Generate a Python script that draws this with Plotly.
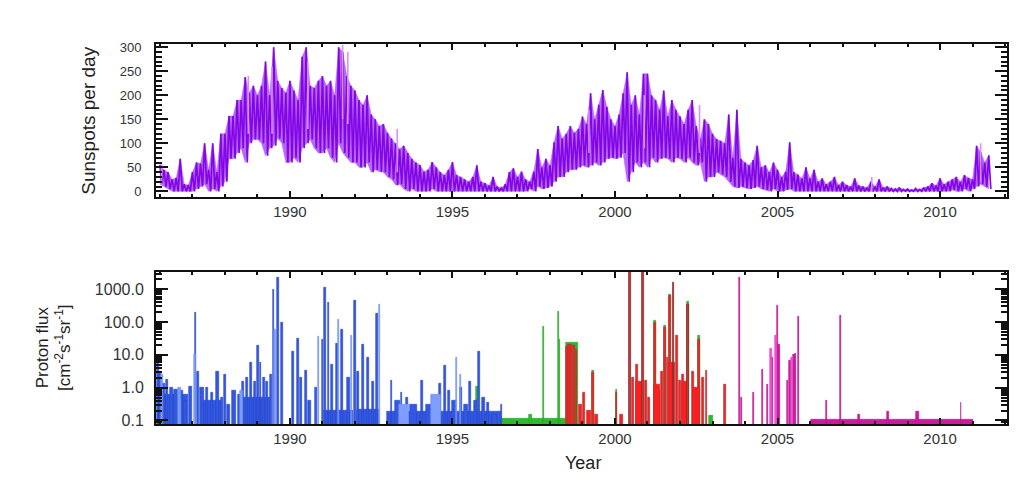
import numpy as np
import plotly.graph_objects as go

# ---------------- Sunspots (top panel) ----------------
ss_start = 1986.0
ss_step = 0.125
ss_hi = [
    55, 45, 40, 25, 28, 68, 15, 13,
    40, 60, 58, 100, 45, 100, 40, 120,
    120, 157, 157, 190, 190, 238, 205, 220,
    200, 220, 270, 200, 300, 230, 215, 205,
    230, 210, 190, 280, 300, 220, 215, 230,
    240, 220, 230, 200, 300, 290, 240, 220,
    210, 190, 180, 200, 160, 150, 136, 140,
    122, 110, 100, 88, 95, 80, 68, 60,
    55, 41, 45, 61, 50, 40, 34, 45,
    61, 34, 30, 25, 20, 30, 54, 20,
    17, 12, 30, 10, 7, 15, 40, 48,
    30, 41, 25, 20, 41, 88, 50, 68,
    54, 102, 136, 110, 120, 136, 122, 130,
    156, 140, 204, 150, 180, 211, 176, 150,
    136, 160, 204, 248, 180, 200, 160, 245,
    245, 200, 190, 170, 210, 156, 190, 170,
    156, 140, 170, 190, 136, 110, 150, 140,
    120, 109, 105, 100, 160, 70, 170, 68,
    60, 54, 65, 95, 50, 54, 40, 60,
    45, 30, 41, 102, 40, 35, 27, 50,
    27, 45, 20, 27, 15, 20, 30, 13,
    20, 13, 10, 27, 12, 10, 8, 20,
    10, 25, 8, 10, 6, 5, 8, 4,
    5, 3, 6, 4, 8, 10, 17, 12,
    27, 15, 20, 25, 30, 20, 34, 28,
    25, 95, 82, 60, 75,
]
ss_lo = [
    15, 10, 5, 0, 0, 0, 0, 0,
    0, 5, 10, 15, 0, 5, 0, 10,
    20, 68, 68, 80, 90, 60, 100, 108,
    108, 100, 74, 90, 95, 110, 100, 60,
    60, 70, 60, 90, 100, 108, 90, 80,
    80, 90, 70, 60, 100, 80, 70, 60,
    60, 50, 50, 60, 40, 45, 41, 40,
    30, 25, 13, 15, 5, 0, 5, 0,
    0, 0, 0, 5, 0, 0, 0, 0,
    0, 0, 0, 0, 0, 0, 0, 0,
    0, 0, 0, 0, 0, 0, 0, 0,
    0, 0, 0, 5, 0, 10, 5, 7,
    10, 20, 30, 30, 40, 45, 45, 50,
    54, 50, 54, 60, 54, 60, 68, 70,
    68, 70, 80, 20, 40, 60, 50, 60,
    50, 70, 60, 68, 70, 68, 60, 70,
    68, 60, 70, 60, 54, 60, 20, 30,
    30, 40, 35, 30, 20, 10, 7, 10,
    7, 5, 7, 10, 5, 3, 0, 5,
    0, 0, 3, 5, 0, 0, 0, 0,
    0, 0, 0, 0, 0, 0, 0, 0,
    0, 0, 0, 0, 0, 0, 0, 0,
    0, 0, 0, 0, 0, 0, 0, 0,
    0, 0, 0, 0, 0, 0, 0, 0,
    0, 0, 0, 3, 0, 0, 5, 0,
    5, 10, 15, 10, 5,
]
# lighter (second source) spikes
ss_light_years = [1986.05, 1988.72, 1989.45, 1990.55, 1991.62, 1991.78, 1993.3, 1999.2, 2000.9, 2002.6, 2007.9, 2011.25]
ss_light_vals = [60, 240, 260, 270, 305, 290, 130, 170, 200, 180, 30, 100]
ss_light_lo = [10, 120, 120, 130, 150, 140, 40, 80, 90, 80, 0, 20]

# ---------------- Proton flux (bottom panel) ----------------
# each event: centre year, peak flux, duration (years)
blue_t = [1986.4, 1987.6, 1988.95, 1991.5, 1992.4, 1994.75,
          1985.93, 1986.0, 1986.1, 1986.22, 1986.35, 1986.5, 1986.65, 1986.78, 1986.95,
          1987.1, 1987.16, 1987.3, 1987.45, 1987.6, 1987.78, 1987.9, 1988.0, 1988.1,
          1988.28, 1988.45, 1988.55, 1988.68, 1988.8, 1988.92, 1989.02, 1989.1, 1989.2,
          1989.3, 1989.42, 1989.5, 1989.62, 1989.75, 1990.1, 1990.25, 1990.35, 1990.5,
          1990.6, 1990.8, 1991.0, 1991.08, 1991.18, 1991.3, 1991.45, 1991.6, 1991.8,
          1992.0, 1992.1, 1992.25, 1992.4, 1992.55, 1992.68, 1993.13, 1993.3, 1993.44,
          1993.6, 1993.8, 1994.05, 1994.3, 1994.45, 1994.62, 1994.77, 1994.9, 1995.05,
          1995.25, 1995.42, 1995.54, 1995.7, 1995.82, 1995.95, 1996.1, 1996.3, 1996.51]
blue_v = [0.6, 0.4, 0.5, 0.2, 0.22, 0.19,
          8, 3, 1.3, 1.8, 1.0, 0.9, 0.8, 0.4, 1.1,
          200, 3.0, 1.0, 1.0, 0.7, 3.0, 0.5, 2.5, 0.3,
          0.8, 0.6, 1.5, 2.0, 6, 1.5, 19, 6, 2,
          1.5, 2.5, 1000, 2300, 100, 13, 32, 2.0, 3.4,
          0.4, 1.0, 30, 1100, 400, 5, 22, 60, 2,
          450, 3, 20, 8, 1.5, 180, 1.7, 0.4, 0.7,
          0.5, 0.3, 1.7, 0.3, 0.5, 1.3, 4.6, 0.8, 0.4,
          1.0, 0.3, 1.5, 0.4, 13, 0.5, 0.35, 0.15, 0.3]
blue_w = [0.9, 0.6, 0.9, 0.9, 0.7, 3.5,
          0.06, 0.08, 0.1, 0.08, 0.1, 0.12, 0.1, 0.08, 0.1,
          0.04, 0.06, 0.12, 0.08, 0.08, 0.08, 0.06, 0.06, 0.1,
          0.1, 0.1, 0.06, 0.06, 0.06, 0.06, 0.06, 0.05, 0.06,
          0.08, 0.05, 0.05, 0.06, 0.05, 0.05, 0.06, 0.05, 0.05,
          0.1, 0.08, 0.05, 0.04, 0.04, 0.06, 0.04, 0.04, 0.08,
          0.04, 0.06, 0.05, 0.05, 0.08, 0.04, 0.05, 0.15, 0.04,
          0.05, 0.2, 0.06, 0.2, 0.06, 0.06, 0.04, 0.06, 0.1,
          0.06, 0.1, 0.06, 0.1, 0.04, 0.08, 0.06, 0.15, 0.04]
lblue_t = [1986.05, 1986.6, 1987.08, 1988.5, 1989.55, 1990.87, 1991.5, 1991.9, 1992.75, 1993.5, 1994.5, 1995.13, 1995.25]
lblue_v = [2.5, 1.0, 10, 0.8, 60, 35, 120, 40, 350, 0.3, 0.6, 8, 2.5]
lblue_w = [0.06, 0.1, 0.04, 0.1, 0.05, 0.04, 0.04, 0.04, 0.04, 0.3, 0.3, 0.04, 0.04]

green_t = [1996.8, 1995.75, 1997.4, 1997.8, 1998.26, 1998.3, 1998.68, 1999.33, 2000.05, 2001.23,
           2001.54, 2001.69, 2002.26, 2002.58, 2002.95]
green_v = [0.112, 1.1, 0.15, 73, 210, 30, 23, 3.3, 0.9, 115, 80, 700, 420, 40, 0.14]
green_w = [3.4, 0.05, 0.1, 0.03, 0.03, 0.03, 0.36, 0.05, 0.05, 0.05, 0.05, 0.05, 0.06, 0.06, 0.1]

red_t = [1998.52, 1998.58, 1998.66, 1998.74, 1998.82, 1998.95, 1999.05, 1999.2, 1999.33, 1999.42,
         2000.05, 2000.2, 2000.55, 2000.67, 2000.95, 2001.05, 2001.23, 2001.35,
         2001.45, 2001.54, 2001.62, 2001.69, 2001.9, 2002.0, 2002.1, 2002.4,
         2002.58, 2002.7, 2002.82, 2003.38, 2000.75, 2001.3, 2001.75, 2002.15, 2002.5]
red_v = [18, 20, 20, 19, 15, 0.3, 0.7, 0.2, 2.9, 0.15,
         0.7, 0.15, 2, 5, 1.7, 0.5, 100, 0.8,
         3, 70, 8, 630, 40, 1.7, 2.5, 3,
         30, 2, 3.4, 1.2, 1.5, 1.2, 6, 1.5, 1.0]
red_w = [0.05, 0.06, 0.06, 0.06, 0.05, 0.1, 0.05, 0.1, 0.05, 0.1,
         0.05, 0.08, 0.06, 0.07, 0.05, 0.07, 0.05, 0.06,
         0.06, 0.05, 0.05, 0.05, 0.06, 0.07, 0.07, 0.06,
         0.05, 0.06, 0.05, 0.05, 0.2, 0.2, 0.2, 0.2, 0.2]
# the biggest events, drawn darker red
dred_t = [2000.46, 2000.87, 2001.8, 2002.26]
dred_v = [4000, 4000, 1600, 350]
dred_w = [0.06, 0.05, 0.05, 0.06]

mag_t = [2008.52, 2003.83, 2003.9, 2004.26, 2004.54, 2004.7, 2004.85, 2005.0, 2005.05, 2005.3,
         2005.38, 2005.5, 2005.56, 2005.64, 2006.51, 2006.95, 2007.5, 2008.4, 2009.3, 2010.64]
mag_v = [0.108, 2300, 0.5, 0.7, 3.6, 1.2, 8, 320, 20, 1.7,
         6.5, 10, 11, 146, 0.4, 160, 0.15, 0.18, 0.18, 0.35]
mag_w = [5.0, 0.03, 0.04, 0.04, 0.04, 0.04, 0.04, 0.05, 0.04, 0.04,
         0.06, 0.05, 0.04, 0.04, 0.02, 0.03, 0.05, 0.06, 0.1, 0.02]
lmag_t = [2004.8, 2004.95, 2005.45]
lmag_v = [16, 40, 8]
lmag_w = [0.04, 0.04, 0.05]

x_ticks = [1990, 1995, 2000, 2005, 2010]
ss_ticks = [0, 50, 100, 150, 200, 250, 300]
pf_ticks = [0.1, 1, 10, 100, 1000]
pf_ticktext = ["0.1", "1.0", "10.0", "100.0", "1000.0"]

# ---------------- page geometry (pixels; page has an 8px body margin) ----------------
W, H, OFF = 1036, 487, 8
def px(x):
    return (x - OFF) / W
def py(y):
    return 1 - (y - OFF) / H

# ---------------- build figure ----------------
fig = go.Figure()

n = len(ss_hi)
t = ss_start + ss_step * np.arange(n)
zx = np.empty(2 * n)
zy = np.empty(2 * n)
zx[0::2] = t
zx[1::2] = t + ss_step / 2
zy[0::2] = ss_hi
zy[1::2] = ss_lo

lx, ly = [], []
for yr, v, lo in zip(ss_light_years, ss_light_vals, ss_light_lo):
    lx += [yr, yr, None]
    ly += [lo, v, None]

# light band between daily lows and highs, with the dark daily scatter on top
fig.add_trace(go.Scatter(x=t, y=ss_lo, mode="lines", line=dict(color="#b869f5", width=0.5),
                         xaxis="x", yaxis="y", hoverinfo="skip"))
fig.add_trace(go.Scatter(x=t, y=ss_hi, mode="lines", line=dict(color="#b869f5", width=0.5),
                         fill="tonexty", fillcolor="#b869f5", xaxis="x", yaxis="y", hoverinfo="skip"))
fig.add_trace(go.Scatter(x=zx, y=zy, mode="lines", line=dict(color="#8306e6", width=1.7),
                         xaxis="x", yaxis="y", hoverinfo="skip"))
fig.add_trace(go.Scatter(x=lx, y=ly, mode="lines", line=dict(color="#d690ff", width=1.6),
                         xaxis="x", yaxis="y", hoverinfo="skip"))

def bars(tt, vv, ww, fill, edge, lw=0.6):
    fig.add_trace(go.Bar(x=tt, y=vv, width=ww, marker=dict(color=fill, line=dict(color=edge, width=lw)),
                         xaxis="x2", yaxis="y2", hoverinfo="skip"))

bars(green_t, green_v, green_w, "#2db82d", "#2aa82a")
bars(blue_t, blue_v, blue_w, "#3358e0", "#2444c8")
bars(lblue_t, lblue_v, lblue_w, "#7d9dff", "#6f8ff5")
bars(red_t, red_v, red_w, "#ff1e1e", "#b03434", 0.7)
bars(dred_t, dred_v, dred_w, "#c23a3a", "#8e2a2a", 0.8)
bars(mag_t, mag_v, mag_w, "#d0189f", "#b8128c")
bars(lmag_t, lmag_v, lmag_w, "#ec55d2", "#e040c8")

fam = "Liberation Sans, Arial, sans-serif"
xr = [1985.88, 2012.06]
axis_common = dict(showline=True, linecolor="#111", linewidth=2, mirror="allticks", ticks="inside",
                   tickcolor="#111", showgrid=False, zeroline=False)
xtf = dict(family=fam, size=15, color="#333")

fig.update_layout(
    width=W, height=H,
    margin=dict(l=0, r=0, t=0, b=0),
    paper_bgcolor="white", plot_bgcolor="white",
    showlegend=False, barmode="overlay", bargap=0,
    font=dict(family=fam, size=12, color="#333"),
    xaxis=dict(domain=[px(156), px(1007)], range=xr, anchor="y", tickvals=x_ticks, ticklen=6, tickwidth=1.5,
               tickfont=xtf,
               minor=dict(dtick=1, ticklen=3, tickcolor="#111", ticks="inside"), **axis_common),
    yaxis=dict(domain=[py(196), py(40)], range=[-12, 306], anchor="x", tickvals=ss_ticks, ticklen=12, tickwidth=1.5,
               tickfont=dict(family=fam, size=13, color="#333"), ticklabelstandoff=10,
               minor=dict(dtick=10, ticklen=6, tickcolor="#111", ticks="inside"),
               **axis_common),
    xaxis2=dict(domain=[px(156), px(1007)], range=xr, anchor="y2", tickvals=x_ticks, ticklen=6, tickwidth=1.5,
                tickfont=xtf,
                minor=dict(dtick=1, ticklen=3, tickcolor="#111", ticks="inside"),
                **axis_common),
    yaxis2=dict(domain=[py(428), py(272)], type="log", range=[-1.12, 3.54], anchor="x2",
                tickvals=pf_ticks, ticktext=pf_ticktext, ticklen=12, tickwidth=1.5,
                tickfont=dict(family=fam, size=16, color="#333"), ticklabelstandoff=7,
                minor=dict(dtick="D1", ticklen=6, tickcolor="#111", ticks="inside"),
                **axis_common),
    annotations=[
        dict(text="Sunspots per day", x=px(89), y=py(118), xref="paper", yref="paper",
             textangle=-90, showarrow=False, xanchor="center", yanchor="middle",
             font=dict(family=fam, size=19, color="#222")),
        dict(text="Proton flux<br>[cm<sup>-2</sup>s<sup>-1</sup>sr<sup>-1</sup>]", x=px(54), y=py(350),
             xref="paper", yref="paper", textangle=-90, showarrow=False, xanchor="center", yanchor="middle",
             font=dict(family=fam, size=17, color="#222")),
        dict(text="Year", x=px(583), y=py(467), xref="paper", yref="paper", showarrow=False,
             xanchor="center", yanchor="middle", font=dict(family=fam, size=18, color="#222")),
    ],
)

fig.write_html("out.html")
